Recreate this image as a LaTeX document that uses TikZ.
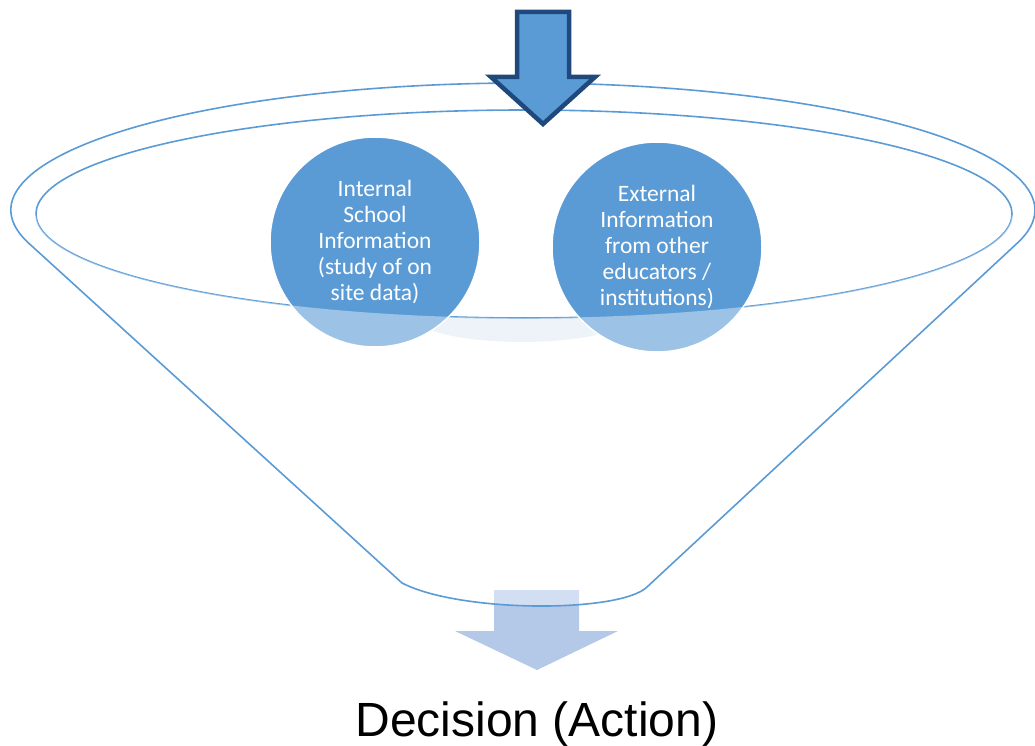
\documentclass[tikz,border=0pt]{standalone}
\usepackage{fontspec}
\newfontfamily\carlitof{Carlito}
\newfontfamily\arialf{Liberation Sans}
\definecolor{lineblue}{RGB}{91,155,213}
\definecolor{circblue}{RGB}{91,155,213}
\definecolor{darkblue}{RGB}{31,73,125}
\definecolor{paleblue}{RGB}{180,200,232}
\definecolor{lensblue}{RGB}{227,235,245}
\tikzset{
  funnelline/.style={draw=lineblue, line width=1.6pt},
  infocircle/.style={circle, fill=circblue, draw=white, line width=1.5pt, minimum size=210pt, inner sep=0pt},
  infotext/.style={text=white, align=center, font=\carlitof\fontsize{23.5}{26}\selectfont},
}
\begin{document}
\begin{tikzpicture}[x=1pt,y=1pt]
\useasboundingbox (0,0) rectangle (1035,-746);
% faint inner lens below the opening
\begin{scope}
  \clip (36,-214) arc[start angle=180,end angle=360,x radius=488,y radius=104] -- (1035,-214) -- (1035,-746) -- (0,-746) -- (0,-214) -- cycle;
  \fill[lensblue] (522,-318) ellipse[x radius=105, y radius=24];
\end{scope}
% inner ellipse (opening)
\draw[funnelline] (524,-214) ellipse[x radius=488, y radius=104];
% circles
\node[infocircle] (int) at (375,-242) {};
\node[infocircle] (ext) at (657,-247) {};
% bottom arrow
\fill[paleblue] (494,-590) -- (579,-590) -- (579,-631) -- (618,-631) -- (537,-670) -- (455,-631) -- (494,-631) -- cycle;
% translucent funnel body
\fill[white, fill opacity=0.4] (36,-214) arc[start angle=180,end angle=360,x radius=488,y radius=104]
  -- (1017.6,-242.9) -- (647,-587) .. controls (620,-613) and (460,-613) .. (402,-583) -- (28.4,-242.9) -- cycle;
% funnel outline
\draw[funnelline, line join=round] (402,-583) -- (28.4,-242.9)
  arc[start angle=195,end angle=-15,x radius=512,y radius=127]
  -- (647,-587) .. controls (620,-613) and (460,-613) .. (402,-583);
% top arrow
\draw[fill=circblue, draw=darkblue, line width=4.5pt, line join=miter]
  (517,-12) -- (569,-12) -- (569,-77) -- (595,-77) -- (543,-124) -- (491,-77) -- (517,-77) -- cycle;
% texts
\node[infotext] (inttext) at (int.center) {Internal\\School\\Information\\(study of on\\site data)};
\node[infotext] (exttext) at (ext.center) {External\\Information\\from other\\educators /\\institutions)};
\node[anchor=base, font=\arialf\fontsize{48}{56}\selectfont, inner sep=0pt] (decision) at (537,-736) {Decision (Action)};
\end{tikzpicture}
\end{document}
